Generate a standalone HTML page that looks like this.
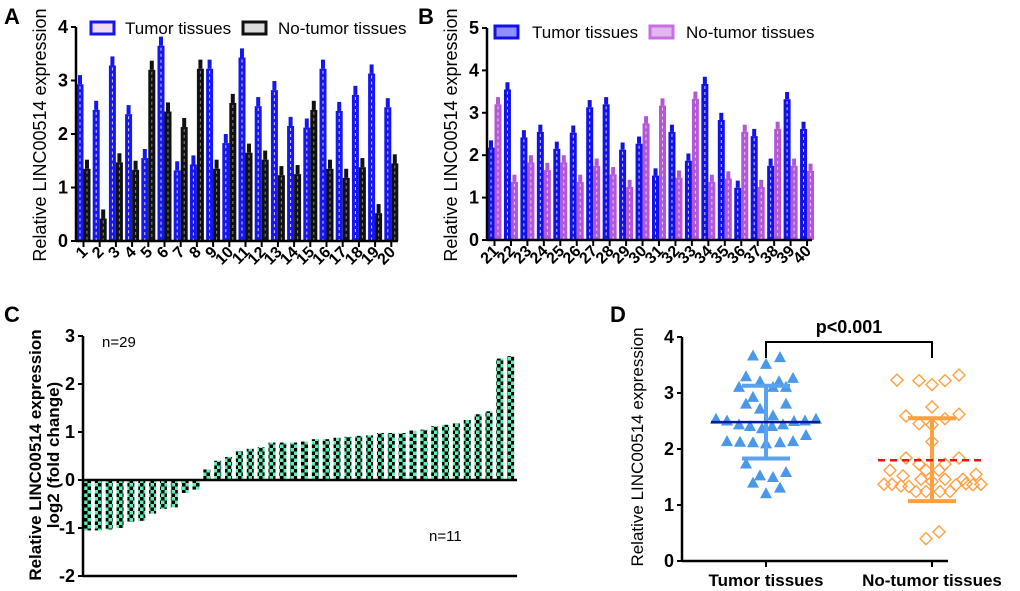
<!DOCTYPE html>
<html><head><meta charset="utf-8"><style>
html,body{margin:0;padding:0;background:#fff}
svg{display:block;font-family:"Liberation Sans",Arial,sans-serif}
</style></head><body>
<svg id="fig" width="1020" height="591" viewBox="0 0 1020 591">
<defs>
<pattern id="chk" width="7" height="7" patternUnits="userSpaceOnUse"><rect width="7" height="7" fill="#5ef0b0"/><rect width="3.5" height="3.5" fill="#000"/><rect x="3.5" y="3.5" width="3.5" height="3.5" fill="#000"/></pattern>
</defs>
</svg>
<script>
// Panel A data
const catsA = [1,2,3,4,5,6,7,8,9,10,11,12,13,14,15,16,17,18,19,20];
const tumorA = [2.93,2.45,3.28,2.37,1.55,3.65,1.32,1.43,3.22,1.83,3.43,2.52,2.82,2.15,2.12,3.22,2.43,2.73,3.13,2.5];
const normalA = [1.35,0.42,1.47,1.33,3.2,2.42,2.13,3.22,1.35,2.58,1.65,1.52,1.23,1.25,2.45,1.35,1.18,1.38,0.52,1.45];
const ticksA = [0,1,2,3,4];
// Panel B data
const catsB = [21,22,23,24,25,26,27,28,29,30,31,32,33,34,35,36,37,38,39,40];
const tumorB = [2.18,3.55,2.42,2.55,2.15,2.53,3.13,3.2,2.13,2.27,1.52,2.55,1.87,3.68,2.83,1.23,2.45,1.75,3.32,2.62];
const normalB = [3.2,1.37,1.83,1.65,1.83,1.37,1.75,1.55,1.25,2.75,3.17,1.47,3.33,1.37,1.45,2.55,1.25,2.62,1.75,1.63];
const ticksB = [0,1,2,3,4,5];
// Panel C data
const foldC = [-1.05,-1.05,-1.03,-1.0,-0.87,-0.85,-0.7,-0.6,-0.57,-0.27,-0.2,0.22,0.4,0.48,0.6,0.65,0.68,0.78,0.78,0.78,0.8,0.85,0.85,0.88,0.9,0.92,0.93,0.98,0.98,0.98,1.03,1.05,1.12,1.15,1.18,1.25,1.37,1.43,2.53,2.58];
const ticksC = [-2,-1,0,1,2,3];
// Panel D data
const groupsD = ["Tumor tissues","No-tumor tissues"];
const tumorD = [3.67,3.64,3.52,3.30,3.27,3.11,3.21,3.21,3.11,3.11,2.93,2.81,2.81,2.72,2.6,2.54,2.51,2.44,2.41,2.37,2.41,2.44,2.5,2.51,2.54,2.25,2.14,2.13,2.12,2.1,2.12,2.14,1.74,1.53,1.5,1.59,1.4,1.31,1.21];
const tumorJit = [-13,14,0,-20,27,-27,-6,13,7,20,-13,-20,20,-6,7,-50,-39,-27,-16,-4,6,17,28,39,50,40,-39,-26,-13,0,14,27,-20,-6,7,20,-13,14,0];
const normalD = [3.23,3.22,3.15,3.22,3.32,2.75,2.59,2.62,2.45,2.43,2.54,2.13,1.84,1.84,1.73,1.73,1.62,1.62,1.62,1.52,1.55,1.46,1.46,1.46,1.37,1.37,1.34,1.33,1.42,1.36,1.38,1.36,1.37,1.24,1.24,1.24,1.24,0.4,0.52];
const normalJit = [-35,-13,0,13,27,0,-26,27,-13,0,13,0,-26,27,-13,13,-6,7,-42,-29,44,-11,13,31,-48,-40,-31,-23,0,24,34,41,49,-16,-6,8,18,-6,7];
const meanD = [2.48,1.8];
const sdHiD = [3.13,2.55];
const sdLoD = [1.83,1.07];
const ticksD = [0,1,2,3,4];

const NS="http://www.w3.org/2000/svg";
const svg=document.getElementById('fig');
function mk(tag,attrs,parent,txt){const e=document.createElementNS(NS,tag);for(const k in attrs)e.setAttribute(k,attrs[k]);if(txt!==undefined)e.textContent=txt;(parent||svg).appendChild(e);return e;}
function grp(name){const g=mk('g',{});


return g;}

function yAxis(g,x,y0,yTop,ticks,sc,name){
  const ax=mk('line',{x1:x,y1:y0,x2:x,y2:yTop,stroke:'#000','stroke-width':2.5},g);
  
  
  ticks.forEach(t=>{mk('line',{x1:x-5,x2:x,y1:sc(t),y2:sc(t),stroke:'#000','stroke-width':2},g);
    const l=mk('text',{x:x-8,y:sc(t)+6,'text-anchor':'end','font-size':18,'font-weight':'bold'},g,String(t));
    
    });
}
function yTitle(g,x,cy,txt,size,weight){const t=mk('text',{x:0,y:0,transform:`translate(${x},${cy}) rotate(-90)`,'text-anchor':'middle','font-size':size,'font-weight':weight||'normal'},g,txt);


return t;}
function letter(x,y,s){const t=mk('text',{x:x,y:y,'font-size':22,'font-weight':'bold'},svg,s);

}

function barPanel(opt){
  const g=grp(opt.name);
  const sy=v=>opt.y0-v*opt.unit;
  const sx=i=>opt.x1+i*opt.step;
  opt.cats.forEach((c,i)=>{
    const cx=sx(i);
    [[opt.t,opt.c1,opt.s1,-7],[opt.n,opt.c2,opt.s2,0]].forEach(([arr,col,inner,off],k)=>{
      const v=arr[i];
      mk('rect',{x:cx+off+1.5,y:sy(v+0.17),width:4,height:sy(v)-sy(v+0.17),fill:col},g);
      const r=mk('rect',{x:cx+off,y:sy(v),width:7,height:opt.y0-sy(v),fill:col},g);
      
      
      mk('line',{x1:cx+off+3.5,x2:cx+off+3.5,y1:sy(v)+2,y2:opt.y0,stroke:inner,'stroke-width':1,'stroke-dasharray':'3 3'},g);
    });
    mk('line',{x1:cx,x2:cx,y1:opt.y0,y2:opt.y0+6,stroke:'#000','stroke-width':2},g);
    const l=mk('text',{x:0,y:0,transform:`translate(${cx+5},${opt.y0+12}) rotate(-45)`,'text-anchor':'end','font-size':16,'font-weight':'bold'},g,String(c));
    
    
  });
  yAxis(g,opt.ax,opt.y0,sy(opt.ticks[opt.ticks.length-1]),opt.ticks,sy,'y-axis');
  const xa=mk('line',{x1:opt.ax,x2:opt.xEnd,y1:opt.y0,y2:opt.y0,stroke:'#000','stroke-width':2.5},g);
  
  
  yTitle(g,opt.titleX,opt.titleY,'Relative  LINC00514 expression',18);
  opt.legend.forEach(([lx,ly,col,fill,txt,tx],k)=>{
    const b=mk('rect',{x:lx,y:ly,width:23,height:12,fill:fill,stroke:col,'stroke-width':3},g);
    
    
    const t=mk('text',{x:tx,y:ly+12,'font-size':17},g,txt);
    
    
  });
}

letter(4,24,'A');
barPanel({name:'panel-a',cats:catsA,t:tumorA,n:normalA,ticks:ticksA,y0:241,unit:53.5,x1:83.5,step:16.2,ax:76,xEnd:398,
  c1:'#1616f0',c2:'#111',s1:'#cfd0ff',s2:'#888',titleX:46,titleY:135,
  legend:[[91,22,'#1616f0','#f3dcef','Tumor tissues',125],[243,22,'#111','#ddd','No-tumor tissues',278]]});
letter(418,24,'B');
barPanel({name:'panel-b',cats:catsB,t:tumorB,n:normalB,ticks:ticksB,y0:240,unit:42.4,x1:494.5,step:16.45,ax:487,xEnd:812,
  c1:'#1212e8',c2:'#b457d6',s1:'#c8c8ff',s2:'#e8c8f2',titleX:457,titleY:135,
  legend:[[495,26,'#1212e8','#8f8fff','Tumor tissues',532],[650,26,'#c56fe0','#e2b6ef','No-tumor tissues',686]]});

// Panel C
letter(4,322,'C');
(function(){
  const g=grp('panel-c');
  const y0=480,unit=48,x1=84,step=10.85;
  const sy=v=>y0-v*unit;
  foldC.forEach((v,i)=>{
    const x=x1+i*step;
    const r=mk('rect',{x:x,y:Math.min(sy(v),y0),width:7,height:Math.abs(sy(v)-y0),fill:'url(#chk)'},g);
    
    
  });
  yAxis(g,83,576,sy(3),ticksC,sy,'y-axis');
  const za=mk('line',{x1:83,x2:517,y1:y0,y2:y0,stroke:'#000','stroke-width':2.5},g);
  
  
  const xa=mk('line',{x1:83,x2:517,y1:576,y2:576,stroke:'#000','stroke-width':2.5},g);
  
  
  yTitle(g,41,455,'Relative  LINC00514 expression',17,'bold');
  yTitle(g,59,455,'log2 (fold change)',17,'bold');
  const a=mk('text',{x:102,y:347,'font-size':15},g,'n=29');
  
  
  const b=mk('text',{x:429,y:541,'font-size':15},g,'n=11');
  
  
})();

// Panel D
letter(610,322,'D');
(function(){
  const g=grp('panel-d');
  const y0=561,unit=56,cx=[766,932];
  const sy=v=>y0-v*unit;
  yAxis(g,682,y0,sy(4),ticksD,sy,'y-axis');
  const xa=mk('line',{x1:682,x2:948,y1:y0,y2:y0,stroke:'#000','stroke-width':2.5},g);
  
  
  groupsD.forEach((n,i)=>{
    mk('line',{x1:cx[i],x2:cx[i],y1:y0,y2:y0+6,stroke:'#000','stroke-width':2},g);
    const t=mk('text',{x:cx[i],y:y0+25,'text-anchor':'middle','font-size':17,'font-weight':'bold'},g,n);
    
    
  });
  yTitle(g,643,447,'Relative  LINC00514 expression',17);
  tumorD.forEach((v,i)=>{
    const x=cx[0]+tumorJit[i],y=sy(v);
    const p=mk('polygon',{points:`${x},${y-6} ${x-6},${y+5} ${x+6},${y+5}`,fill:'#4a98ec'},g);
    
    
  });
  normalD.forEach((v,i)=>{
    const x=cx[1]+normalJit[i],y=sy(v);
    const p=mk('polygon',{points:`${x},${y-6} ${x+6},${y} ${x},${y+6} ${x-6},${y}`,fill:'none',stroke:'#ffa040','stroke-width':1.4},g);
    
    
  });
  const cols=['#5aa2ee','#ffa040'];
  [0,1].forEach(i=>{
    mk('line',{x1:cx[i],x2:cx[i],y1:sy(sdHiD[i]),y2:sy(sdLoD[i]),stroke:cols[i],'stroke-width':4},g);
    mk('line',{x1:cx[i]-24,x2:cx[i]+24,y1:sy(sdHiD[i]),y2:sy(sdHiD[i]),stroke:cols[i],'stroke-width':4},g);
    mk('line',{x1:cx[i]-24,x2:cx[i]+24,y1:sy(sdLoD[i]),y2:sy(sdLoD[i]),stroke:cols[i],'stroke-width':4},g);
  });
  const m1=mk('line',{x1:711,x2:820,y1:sy(meanD[0]),y2:sy(meanD[0]),stroke:'#0a1aa0','stroke-width':2.5},g);
  
  
  const m2=mk('line',{x1:878,x2:982,y1:sy(meanD[1]),y2:sy(meanD[1]),stroke:'#f01010','stroke-width':2.5,'stroke-dasharray':'7 5'},g);
  
  
  const br=mk('polyline',{points:`${cx[0]},358 ${cx[0]},342 ${cx[1]},342 ${cx[1]},358`,fill:'none',stroke:'#000','stroke-width':2},g);
  
  
  const pt=mk('text',{x:849,y:333,'text-anchor':'middle','font-size':18,'font-weight':'bold'},g,'p<0.001');
  
  
})();
</script>
</body></html>
